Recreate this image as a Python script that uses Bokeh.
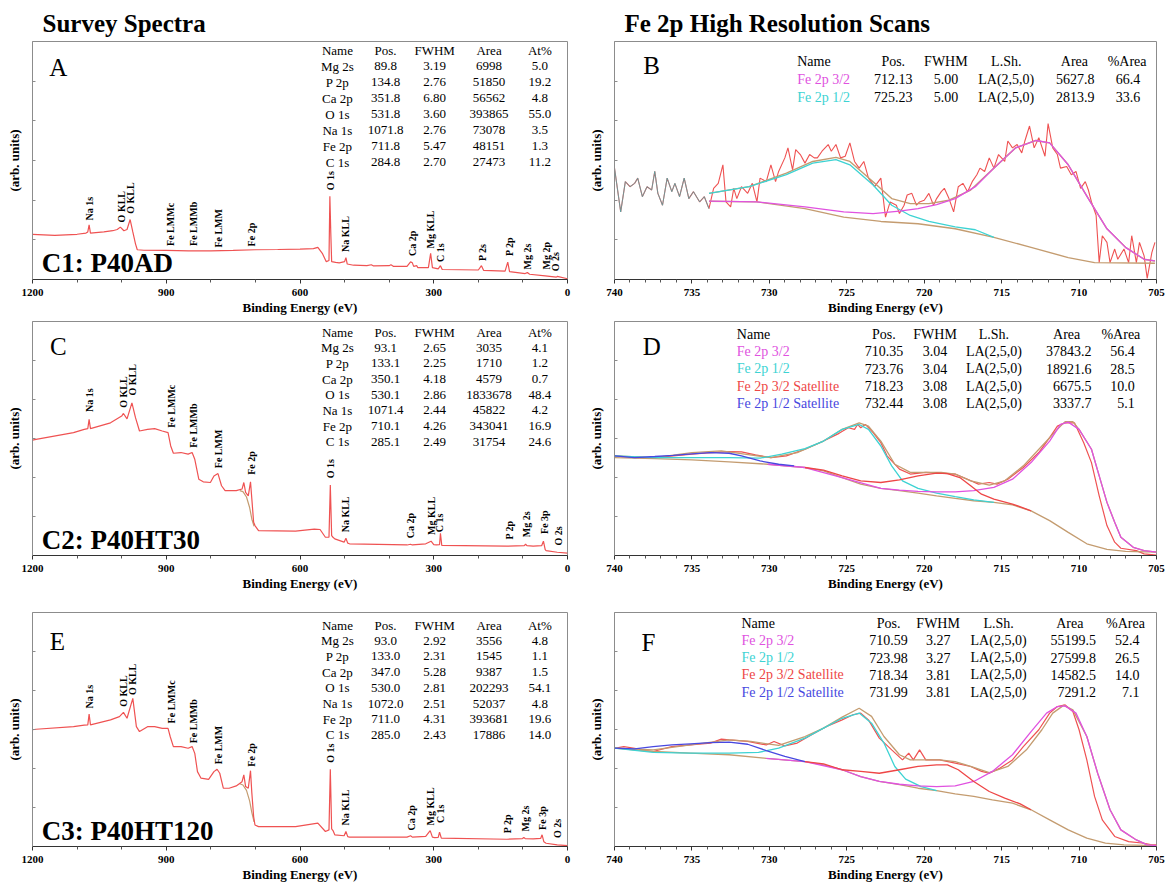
import math
from bokeh.plotting import figure
from bokeh.models import Range1d, FixedTicker
from bokeh.layouts import column, row
from bokeh.embed import file_html
from bokeh.resources import INLINE
from bokeh.core.properties import value

# ---------------- Survey spectra (binding energy eV, intensity arb. units) ----------------
A_E = [1200, 1150, 1100, 1080, 1076, 1073, 1070, 1040, 1020, 1010, 1003, 995, 988, 981, 975, 969, 965, 950, 900, 850,
       800, 750, 700, 650, 600, 570, 560, 550, 541, 535, 533, 531, 529, 520, 512, 500, 497, 494, 480, 450,
       440, 435, 400, 396, 390, 360, 352, 348, 345, 338, 336, 312, 307, 303, 290, 285, 281, 200, 193, 188,
       140, 134, 130, 95, 90, 85, 50, 25, 23, 0]
A_I = [19.0, 18.5, 19.0, 19.5, 20.0, 23.0, 19.5, 20.0, 20.5, 21.0, 22.0, 20.5, 21.0, 25.2, 20.0, 15.0, 12.5, 12.3, 12.2, 12.0,
       12.0, 12.2, 12.5, 12.6, 12.8, 13.0, 13.5, 11.0, 7.5, 8.0, 35.0, 20.0, 7.5, 7.2, 7.0, 7.5, 9.2, 6.5, 6.0, 5.8,
       6.2, 5.7, 5.8, 6.2, 5.5, 5.5, 7.4, 7.0, 5.5, 5.8, 5.0, 5.0, 11.0, 5.0, 4.5, 5.8, 4.2, 4.0, 5.8, 3.8,
       3.5, 7.3, 3.3, 2.5, 2.9, 2.2, 1.5, 1.0, 1.3, 0.3]

C_E = [1200, 1192, 1108, 1084, 1076, 1073, 1070, 1025, 1000, 996, 988, 977, 969, 960, 942, 926, 909, 896, 890, 884,
       867, 851, 842, 836, 827, 817, 801, 793, 784, 776, 768, 743, 730, 726, 722, 716, 711, 708, 704, 701,
       693, 610, 568, 555, 543, 535, 532, 529, 526, 522, 501, 497, 493, 489, 360, 352, 348, 318, 306, 300,
       294, 287, 285, 282, 136, 97, 94, 91, 77, 58, 54, 50, 48, 23, 0]
C_I = [49.3, 49.6, 52.5, 53.9, 54.2, 58.2, 54.2, 56.7, 59.6, 60.7, 58.4, 65.2, 58.9, 53.2, 53.9, 54.2, 53.2, 52.5, 46.8, 43.7,
       44.0, 43.3, 44.0, 41.1, 32.6, 31.5, 31.2, 34.0, 35.0, 29.8, 27.7, 27.7, 28.4, 31.2, 27.0, 25.5, 31.5, 24.1, 14.2, 12.8,
       10.6, 10.4, 11.3, 11.1, 7.8, 7.8, 30.1, 8.5, 7.8, 7.1, 5.7, 7.4, 5.3, 5.0, 4.5, 4.8, 4.5, 5.0, 6.1, 4.6,
       4.5, 4.6, 9.5, 4.3, 4.0, 4.2, 4.8, 4.2, 4.0, 4.2, 6.1, 2.5, 2.1, 1.4, 1.0]

E_E = [1200, 1192, 1108, 1084, 1076, 1073, 1070, 1025, 1005, 996, 988, 975, 967, 960, 942, 926, 909, 896, 891, 884,
       867, 851, 842, 836, 830, 822, 805, 793, 786, 780, 772, 759, 743, 730, 726, 722, 716, 711, 708, 704,
       701, 693, 610, 560, 543, 535, 532, 529, 526, 522, 501, 497, 493, 489, 360, 352, 348, 318, 308, 303,
       298, 290, 287, 283, 136, 101, 98, 95, 77, 60, 57, 53, 48, 23, 0]
E_I = [49.9, 50.1, 51.2, 51.9, 52.0, 56.6, 52.0, 54.1, 55.5, 57.3, 54.8, 63.3, 51.2, 49.1, 51.2, 51.2, 50.5, 50.5, 46.9, 42.7,
       42.7, 42.0, 42.7, 39.8, 32.0, 29.2, 28.7, 32.0, 33.0, 31.3, 24.9, 24.9, 25.9, 27.7, 30.6, 25.6, 24.9, 32.4, 22.8, 12.8,
       9.2, 8.5, 8.5, 10.0, 6.4, 7.1, 33.0, 7.5, 6.8, 5.0, 4.6, 6.4, 4.2, 4.0, 4.0, 4.6, 4.0, 4.3, 6.8, 4.0,
       3.8, 3.9, 6.1, 3.6, 3.1, 3.4, 3.8, 3.4, 3.3, 3.5, 5.0, 2.0, 1.4, 0.7, 0.4]

# Shirley backgrounds under the Fe 2p region of the survey scans
FE_BG_E = [735, 728, 720, 713, 708, 703]
C_FE_BG_I = [27.7, 27.3, 25.0, 20.5, 15.5, 12.5]
E_FE_BG_I = [26.8, 26.3, 24.0, 19.5, 14.5, 10.5]

# Peak labels of the survey scans
A_PEAKS = ["Na 1s", "O KLL", "O KLL", "Fe LMMc", "Fe LMMb", "Fe LMM", "Fe 2p", "O 1s", "Na KLL", "Ca 2p",
           "Mg KLL", "C 1s", "P 2s", "P 2p", "Mg 2s", "Mg 2p", "O 2s"]
A_PEAK_E = [1073, 1000, 980, 890, 838, 783, 709, 531, 497, 348, 308, 285, 190, 131, 90, 48, 27]
A_PEAK_I = [24.8, 24.0, 27.6, 14.1, 14.1, 13.4, 13.9, 37.5, 11.6, 9.9, 13.0, 7.4, 7.8, 9.9, 4.2, 4.2, 3.5]
C_PEAKS = ["Na 1s", "O KLL", "O KLL", "Fe LMMc", "Fe LMMb", "Fe LMM", "Fe 2p", "O 1s", "Na KLL", "Ca 2p",
           "Mg KLL", "C 1s", "P 2p", "Mg 2s", "Fe 3p", "O 2s"]
C_PEAK_E = [1073, 996, 975, 888, 838, 783, 709, 531, 497, 352, 306, 287, 131, 92, 52, 21]
C_PEAK_I = [61.3, 63.1, 68.4, 54.6, 46.1, 37.3, 34.5, 33.0, 9.9, 7.4, 8.8, 9.9, 6.8, 7.8, 9.2, 4.3]
E_PEAKS = C_PEAKS
E_PEAK_E = [1073, 996, 975, 888, 838, 783, 709, 532, 497, 350, 308, 285, 134, 94, 56, 23]
E_PEAK_I = [59.0, 59.7, 64.7, 52.6, 44.1, 35.1, 34.1, 35.8, 9.0, 6.8, 9.0, 10.0, 5.7, 6.4, 7.1, 3.6]

# Survey quantification tables
SURVEY_HEAD = ["Name", "Pos.", "FWHM", "Area", "At%"]
SURVEY_NAMES = ["Mg 2s", "P 2p", "Ca 2p", "O 1s", "Na 1s", "Fe 2p", "C 1s"]
A_POS = ["89.8", "134.8", "351.8", "531.8", "1071.8", "711.8", "284.8"]
A_FWHM = ["3.19", "2.76", "6.80", "3.60", "2.76", "5.47", "2.70"]
A_AREA = ["6998", "51850", "56562", "393865", "73078", "48151", "27473"]
A_AT = ["5.0", "19.2", "4.8", "55.0", "3.5", "1.3", "11.2"]
C_POS = ["93.1", "133.1", "350.1", "530.1", "1071.4", "710.1", "285.1"]
C_FWHM = ["2.65", "2.25", "4.18", "2.86", "2.44", "4.26", "2.49"]
C_AREA = ["3035", "1710", "4579", "1833678", "45822", "343041", "31754"]
C_AT = ["4.1", "1.2", "0.7", "48.4", "4.2", "16.9", "24.6"]
E_POS = ["93.0", "133.0", "347.0", "530.0", "1072.0", "711.0", "285.0"]
E_FWHM = ["2.92", "2.31", "5.28", "2.81", "2.51", "4.31", "2.43"]
E_AREA = ["3556", "1545", "9387", "202293", "52037", "393681", "17886"]
E_AT = ["4.8", "1.1", "1.5", "54.1", "4.8", "19.6", "14.0"]

# ---------------- Fe 2p high resolution scans ----------------
B_E = [740.0, 739.6, 739.3, 739.0, 738.7, 738.5, 738.2, 737.9, 737.6, 737.4, 737.2, 736.9, 736.6, 736.3, 736.1, 735.8,
       735.5, 735.2, 734.9, 734.5, 734.2, 733.9, 733.6, 733.3, 733.0, 732.8, 732.5, 732.3, 732.1, 731.8, 731.4, 731.1,
       730.8, 730.6, 730.2, 729.9, 729.6, 729.4, 729.0, 728.8, 728.5, 728.3, 728.0, 727.7, 727.4, 727.1, 726.9, 726.6,
       726.2, 726.0, 725.7, 725.4, 725.1, 724.8, 724.5, 724.2, 723.9, 723.6, 723.2, 722.8, 722.5, 722.2, 721.8, 721.6,
       721.3, 721.1, 720.8, 720.5, 720.3, 720.0, 719.7, 719.4, 719.2, 718.9, 718.7, 718.4, 718.1, 717.8, 717.5, 717.2,
       716.9, 716.6, 716.4, 716.1, 715.8, 715.5, 715.2, 714.8, 714.6, 714.3, 714.0, 713.7, 713.5, 713.2, 712.9, 712.6,
       712.2, 712.0, 711.7, 711.4, 711.2, 710.8, 710.5, 710.2, 709.9, 709.6, 709.4, 709.2, 708.9, 708.7, 708.5, 708.2,
       708.0, 707.7, 707.5, 707.1, 706.8, 706.6, 706.3, 706.1, 705.8, 705.6, 705.3, 705.1]
B_I = [46.8, 28.4, 41.1, 39.0, 40.4, 42.6, 34.8, 39.0, 37.6, 45.4, 36.2, 31.2, 42.6, 36.9, 40.4, 34.8,
       42.6, 34.0, 36.9, 32.6, 34.8, 29.8, 38.3, 40.4, 48.2, 32.6, 30.5, 38.3, 34.0, 39.0, 36.2, 40.4,
       32.6, 42.6, 41.1, 48.2, 41.1, 45.4, 51.1, 55.3, 46.1, 54.6, 52.5, 48.9, 52.5, 51.1, 51.1, 53.9,
       56.7, 53.9, 56.7, 51.1, 51.8, 57.4, 49.6, 46.8, 49.6, 42.6, 39.0, 42.6, 26.2, 32.6, 31.2, 27.7,
       31.2, 35.5, 36.2, 31.2, 32.6, 33.3, 36.2, 31.2, 34.0, 36.9, 38.3, 34.0, 28.4, 39.0, 40.4, 36.9,
       41.1, 44.0, 46.8, 45.4, 51.1, 46.8, 52.5, 49.6, 58.2, 55.3, 56.7, 53.2, 58.2, 64.5, 55.3, 59.6,
       51.8, 65.5, 55.3, 52.5, 46.8, 47.5, 44.0, 45.4, 38.3, 41.1, 37.6, 32.6, 27.0, 7.1, 18.4, 15.6,
       7.1, 12.8, 8.5, 12.8, 7.1, 18.4, 7.1, 15.6, 9.9, 0.5, 11.3, 15.6]
B_BG_E = [733.9, 730.8, 727.7, 725.2, 722.8, 720.4, 718.0, 715.5, 713.1, 710.7, 709.0, 705.1]
B_BG_I = [32.9, 32.6, 29.8, 26.2, 24.4, 23.4, 21.3, 17.7, 13.5, 9.2, 7.1, 6.8]
B_ENV_E = [733.9, 731.3, 728.9, 727.2, 725.7, 724.8, 723.3, 722.1, 720.9, 719.7, 718.4, 717.0, 715.5, 714.1, 712.8,
           711.9, 710.7, 709.4, 708.2, 707.0, 705.8, 705.1]
B_ENV_I = [36.2, 39.0, 44.7, 49.6, 51.3, 49.6, 41.1, 34.0, 31.9, 31.9, 33.3, 37.6, 46.8, 55.3, 58.4,
           57.4, 48.2, 34.0, 21.3, 13.5, 8.5, 7.8]
B_MAG_E = [733.9, 730.8, 727.7, 725.2, 723.3, 721.6, 720.4, 719.2, 718.0, 716.7, 715.5, 714.1, 712.8, 711.9, 710.7,
           709.4, 708.2, 707.0, 705.8, 705.1]
B_MAG_I = [32.9, 32.6, 30.5, 28.4, 27.7, 28.7, 29.8, 31.5, 34.0, 39.0, 46.8, 55.3, 58.4, 57.4, 48.2,
           34.0, 21.3, 13.5, 8.5, 7.8]
B_CYAN_E = [733.9, 731.3, 728.9, 727.2, 725.7, 724.8, 723.3, 722.1, 720.9, 719.7, 718.0, 716.7, 715.5]
B_CYAN_I = [36.2, 39.0, 44.1, 48.9, 50.4, 48.2, 39.7, 31.2, 26.9, 24.4, 22.1, 20.9, 17.7]

D_E = [740.0, 738.7, 737.4, 736.2, 735.0, 733.8, 732.6, 731.8, 730.9, 729.9, 728.9, 727.7, 726.5, 725.5, 724.9, 724.5,
       724.3, 724.1, 723.8, 723.3, 722.8, 722.4, 721.6, 720.9, 719.9, 718.9, 718.0, 717.2, 716.5, 715.8, 715.3, 714.6,
       713.6, 712.6, 711.9, 711.4, 710.9, 710.3, 709.7, 709.2, 708.7, 708.2, 707.7, 707.3, 706.3, 705.8, 705.0]
D_I = [42.6, 41.8, 41.8, 42.6, 43.3, 44.0, 44.4, 44.3, 43.0, 41.8, 42.6, 45.4, 48.9, 52.2, 54.6, 53.9,
       56.0, 54.6, 56.0, 52.5, 48.2, 42.6, 36.9, 34.8, 35.5, 35.2, 34.8, 32.6, 30.5, 31.2, 30.5, 32.6,
       37.6, 44.0, 50.4, 55.3, 56.7, 56.7, 48.2, 39.7, 25.5, 12.8, 5.7, 3.1, 2.1, 0.7, 0.2]
D_ENV_E = [740.0, 737.4, 735.0, 733.1, 731.6, 729.9, 728.2, 726.5, 725.3, 724.2, 723.6, 722.8, 721.9, 720.9, 718.9,
           718.0, 717.0, 715.8, 714.8, 713.6, 712.4, 711.4, 710.9, 710.4, 710.0, 709.2, 708.7, 708.2, 707.7, 707.3,
           706.5, 705.8, 705.0]
D_ENV_I = [42.6, 41.8, 44.0, 44.7, 43.3, 41.8, 44.0, 48.9, 53.9, 56.7, 55.3, 48.9, 39.0, 35.5, 35.5,
           34.8, 31.9, 30.1, 31.9, 38.3, 46.8, 53.9, 57.2, 57.2, 53.9, 45.4, 34.0, 22.7, 14.2, 7.8,
           3.5, 2.1, 1.4]
D_BG_E = [740.0, 737.4, 735.0, 732.6, 730.1, 727.7, 726.5, 725.3, 724.1, 722.8, 721.6, 720.4, 719.2, 718.0, 716.8,
          715.5, 714.3, 713.1, 711.9, 710.7, 709.5, 708.2, 707.0, 705.0]
D_BG_I = [41.8, 41.4, 40.9, 40.0, 39.0, 37.6, 36.2, 33.3, 30.5, 28.7, 27.7, 26.7, 25.5, 24.4, 23.4,
          22.7, 21.6, 19.1, 14.9, 9.9, 5.0, 2.6, 1.8, 1.4]
D_MAG_E = [730.1, 727.7, 725.3, 722.8, 721.6, 720.4, 719.2, 718.0, 716.8, 715.5, 714.3, 713.1, 711.9, 711.2, 710.7,
           710.0, 709.2, 708.7, 708.2, 707.7, 707.3, 706.5, 705.8, 705.0]
D_MAG_I = [39.0, 37.6, 33.3, 28.7, 27.9, 27.4, 27.2, 27.2, 27.7, 29.1, 32.6, 39.7, 48.9, 56.0, 57.0,
           53.9, 45.4, 34.0, 22.7, 14.2, 7.8, 3.5, 2.1, 1.4]
D_CYAN_E = [740.0, 737.4, 735.0, 732.6, 730.6, 729.2, 727.7, 726.5, 725.3, 724.2, 723.6, 722.8, 722.1, 721.4, 720.4,
            719.2, 718.0, 716.8, 715.5]
D_CYAN_I = [42.6, 41.8, 41.8, 41.8, 41.6, 43.3, 45.7, 48.9, 53.9, 56.0, 53.9, 46.8, 38.3, 31.9, 28.7,
            26.7, 25.2, 23.8, 22.7]
D_SAT_E = [727.7, 726.5, 725.3, 724.1, 722.8, 721.6, 720.4, 719.2, 718.5, 717.7, 717.0, 716.3, 715.5, 714.3, 713.1]
D_SAT_I = [37.6, 36.5, 34.0, 31.9, 31.2, 32.3, 34.0, 35.2, 35.0, 33.3, 29.8, 26.2, 24.1, 22.0, 19.1]
D_BSAT_E = [740.0, 738.7, 737.4, 736.2, 735.0, 733.8, 732.6, 731.8, 730.6, 729.4, 728.4]
D_BSAT_I = [42.6, 41.8, 42.3, 42.8, 43.4, 44.0, 43.7, 42.6, 40.4, 39.0, 38.3]

F_E = [740.0, 739.4, 738.7, 738.0, 737.5, 736.3, 735.1, 733.8, 733.1, 732.6, 731.4, 730.2, 729.7, 729.0, 728.2, 727.3,
       726.3, 725.3, 724.6, 724.1, 723.6, 722.9, 722.1, 721.4, 721.0, 720.7, 720.3, 719.9, 719.0, 718.0, 717.0, 716.3,
       715.8, 715.1, 714.3, 713.6, 712.6, 711.9, 711.4, 710.9, 710.4, 710.0, 709.5, 709.0, 708.5, 707.7, 706.8, 705.8,
       705.3, 705.0]
F_I = [42.0, 42.7, 42.0, 41.0, 40.6, 42.7, 43.4, 44.2, 45.9, 45.6, 44.9, 43.4, 44.9, 43.0, 44.2, 47.7,
       51.3, 54.1, 56.3, 57.0, 54.1, 46.3, 41.3, 37.0, 39.9, 37.0, 41.3, 37.0, 37.0, 35.6, 34.2, 32.1,
       31.3, 33.5, 37.0, 42.7, 49.9, 57.0, 59.8, 60.5, 57.7, 49.9, 37.0, 21.4, 11.4, 4.3, 2.1, 1.4,
       0.7, 0.7]
F_ENV_E = [740.0, 737.5, 735.1, 732.6, 731.2, 729.4, 727.7, 726.5, 725.3, 724.2, 723.4, 722.6, 721.6, 720.9, 719.0,
           718.0, 717.0, 715.8, 714.6, 713.4, 712.4, 711.7, 711.0, 710.4, 709.5, 708.8, 708.0, 707.3, 706.3, 705.6,
           705.0]
F_ENV_I = [42.0, 41.3, 43.4, 45.6, 44.9, 43.2, 47.0, 50.6, 55.3, 59.1, 55.6, 47.0, 39.2, 37.0, 37.0,
           36.3, 34.2, 31.6, 34.2, 41.3, 49.9, 57.0, 60.3, 58.4, 47.0, 31.3, 15.7, 7.1, 2.8, 0.7,
           0.4]
F_BG_E = [740.0, 737.5, 735.1, 732.6, 730.2, 727.7, 726.5, 725.3, 724.1, 722.9, 721.6, 720.4, 719.2, 718.0, 716.8,
          715.6, 714.3, 713.1, 711.9, 710.7, 709.5, 708.3, 707.1, 705.0]
F_BG_I = [42.0, 40.6, 39.9, 39.2, 37.7, 36.3, 34.9, 32.8, 29.9, 27.8, 26.4, 24.9, 23.9, 22.5, 21.4,
          19.9, 18.5, 15.7, 11.4, 7.1, 3.6, 1.4, 0.7, 0.4]
F_MAG_E = [730.2, 727.7, 725.3, 724.1, 722.9, 721.6, 720.4, 719.2, 718.0, 716.8, 715.6, 714.3, 713.1, 712.1, 711.4,
           710.9, 710.2, 709.5, 708.8, 708.0, 707.3, 706.3, 705.6, 705.0]
F_MAG_I = [37.7, 36.3, 32.8, 29.9, 27.8, 26.6, 25.9, 25.6, 25.9, 27.8, 32.1, 39.2, 49.1, 57.0, 59.8,
           60.1, 57.0, 47.0, 31.3, 15.7, 7.1, 2.8, 0.7, 0.4]
F_CYAN_E = [740.0, 737.5, 735.1, 732.6, 730.7, 729.4, 727.7, 726.5, 725.3, 724.2, 723.4, 722.6, 721.9, 721.2, 720.2,
            719.2]
F_CYAN_I = [42.0, 40.2, 39.9, 39.9, 40.2, 42.0, 46.3, 50.6, 54.8, 57.0, 52.7, 44.2, 34.2, 28.8, 25.6, 23.9]
F_SAT_E = [727.7, 726.5, 725.3, 724.1, 722.9, 721.6, 720.4, 719.2, 718.5, 717.8, 716.8, 715.8, 714.8, 713.8, 713.1]
F_SAT_I = [36.3, 35.3, 32.8, 32.1, 31.3, 32.8, 34.2, 34.9, 34.9, 32.8, 27.8, 23.5, 20.7, 18.2, 15.7]
F_BSAT_E = [740.0, 738.7, 737.5, 736.3, 735.1, 733.8, 732.6, 731.4, 730.2, 729.0, 727.7]
F_BSAT_I = [42.0, 41.7, 42.7, 43.4, 43.9, 44.4, 44.6, 43.7, 41.0, 38.5, 36.3]

# Fit tables of the Fe 2p scans
FE_HEAD = ["Pos.", "FWHM", "L.Sh.", "Area", "%Area"]
B_NAMES = ["Fe 2p 3/2", "Fe 2p 1/2"]
B_POS = ["712.13", "725.23"]
B_FWHM = ["5.00", "5.00"]
B_LSH = ["LA(2,5,0)", "LA(2,5,0)"]
B_AREA = ["5627.8", "2813.9"]
B_PCT = ["66.4", "33.6"]
DF_NAMES = ["Fe 2p 3/2", "Fe 2p 1/2", "Fe 2p 3/2 Satellite", "Fe 2p 1/2 Satellite"]
D_POS = ["710.35", "723.76", "718.23", "732.44"]
D_FWHM = ["3.04", "3.04", "3.08", "3.08"]
D_LSH = ["LA(2,5,0)"] * 4
D_AREA = ["37843.2", "18921.6", "6675.5", "3337.7"]
D_PCT = ["56.4", "28.5", "10.0", "5.1"]
F_POS = ["710.59", "723.98", "718.34", "731.99"]
F_FWHM = ["3.27", "3.27", "3.81", "3.81"]
F_LSH = ["LA(2,5,0)"] * 4
F_AREA = ["55199.5", "27599.8", "14582.5", "7291.2"]
F_PCT = ["52.4", "26.5", "14.0", "7.1"]

# ---------------- styling ----------------
SERIF = "Liberation Serif"
RED = "#ef5252"
TAN = "#c49c70"
MAG = "#e052e0"
CYAN = "#3dd3d3"
BLUE = "#4848e0"
SATRED = "#ee4646"
NAME_COLORS = [MAG, CYAN, SATRED, BLUE]
FRAME = "#8c8c8c"
BOTTOM = 37


def make_panel(kind, width, height, top, left, right, title=None):
    if kind == "survey":
        xr = Range1d(1200, 0)
        major = [0, 300, 600, 900, 1200]
        minor = [100, 200, 400, 500, 700, 800, 1000, 1100]
    else:
        xr = Range1d(740, 705)
        major = list(range(705, 741, 5))
        minor = [v for v in range(706, 740) if v % 5]
    kw = dict(width=width, height=height, x_range=xr, y_range=Range1d(0, 100),
              output_backend="svg", toolbar_location=None,
              min_border_top=top, min_border_bottom=BOTTOM,
              min_border_left=left, min_border_right=right)
    if title:
        p = figure(title=title, **kw)
        p.title.text_font = SERIF
        p.title.text_font_size = "25px"
        p.title.text_font_style = "bold"
        p.title.text_color = "black"
        p.title.align = "left"
        p.title.offset = 10
        p.title.standoff = 9
    else:
        p = figure(**kw)
    p.xgrid.visible = False
    p.ygrid.visible = False
    p.background_fill_color = "white"
    p.border_fill_color = "white"
    p.outline_line_color = FRAME
    p.outline_line_width = 1

    xa = p.xaxis[0]
    xa.ticker = FixedTicker(ticks=major, minor_ticks=minor)
    xa.axis_label = "Binding Energy (eV)"
    xa.axis_label_text_font = SERIF
    xa.axis_label_text_font_style = "bold"
    xa.axis_label_text_font_size = "13px"
    xa.axis_label_text_color = "black"
    xa.axis_label_standoff = 1
    xa.major_label_text_font = SERIF
    xa.major_label_text_font_style = "bold"
    xa.major_label_text_font_size = "11px"
    xa.major_label_text_color = "black"
    xa.major_label_standoff = 5
    xa.major_tick_in = 0
    xa.major_tick_out = 4
    xa.minor_tick_in = 0
    xa.minor_tick_out = 3
    xa.axis_line_color = "#333333"
    xa.major_tick_line_color = "#333333"
    xa.minor_tick_line_color = "#555555"

    ya = p.yaxis[0]
    ya.ticker = FixedTicker(ticks=[], minor_ticks=[100 * k / 6 for k in range(1, 6)])
    ya.axis_label = "(arb. units)"
    ya.axis_label_text_font = SERIF
    ya.axis_label_text_font_style = "bold"
    ya.axis_label_text_font_size = "13px"
    ya.axis_label_text_color = "black"
    ya.axis_label_standoff = 11
    ya.major_label_standoff = 0
    ya.major_tick_in = 0
    ya.major_tick_out = 0
    ya.minor_tick_in = 3
    ya.minor_tick_out = 0
    ya.axis_line_color = FRAME
    ya.minor_tick_line_color = FRAME
    return p


def put_text(p, xs, ys, texts, size, align="center", baseline="middle", style="normal",
             color="black", angle=0.0):
    p.text(x=xs, y=ys, text=texts, text_font=value(SERIF), text_font_size=size,
           text_align=align, text_baseline=baseline, text_font_style=style,
           text_color=color, angle=angle)


def survey_panel(p, E, I, peaks, peak_e, peak_i, letter, letter_xy, sample, table, table_top,
                 fe_bg=None):
    if fe_bg is not None:
        p.line(FE_BG_E, fe_bg, color=TAN, line_width=1.2)
    p.line(E, I, color=RED, line_width=1.2)
    put_text(p, peak_e, peak_i, peaks, "10px", align="left", style="bold", angle=math.pi / 2)
    cols_x = [516, 408, 298, 176, 62]
    step = 6.7
    for cx, head, vals in zip(cols_x, SURVEY_HEAD, table):
        ys = [table_top - step * k for k in range(len(vals) + 1)]
        put_text(p, [cx] * len(ys), ys, [head] + vals, "13px")
    put_text(p, [letter_xy[0]], [letter_xy[1]], [letter], "25px")
    put_text(p, [1179], [6.8], [sample], "27px", align="left", style="bold")


def fe_panel(p, letter, letter_xy, table, table_top, step, xs, names):
    name_x, pos_x, fwhm_x, lsh_x, area_c, area_r, pct_c, pct_r = xs
    pos, fwhm, lsh, area, pct = table
    n = len(names)
    rows = [table_top - step * (k + 1) for k in range(n)]
    put_text(p, [name_x], [table_top], ["Name"], "14px", align="left")
    put_text(p, [pos_x, fwhm_x, lsh_x, area_c, pct_c], [table_top] * 5, FE_HEAD, "14px")
    put_text(p, [name_x] * n, rows, names, "14px", align="left", color=NAME_COLORS[:n])
    put_text(p, [pos_x] * n, rows, pos, "14px")
    put_text(p, [fwhm_x] * n, rows, fwhm, "14px")
    put_text(p, [lsh_x] * n, rows, lsh, "14px")
    put_text(p, [area_r] * n, rows, area, "14px", align="right")
    put_text(p, [pct_r] * n, rows, pct, "14px", align="right")
    put_text(p, [letter_xy[0]], [letter_xy[1]], [letter], "25px")


# ---------------- layout ----------------
LW, RW = 579, 588
H1, H2, H3 = 317, 276, 291

pA = make_panel("survey", LW, H1, 41, 32, 12, "Survey Spectra")
pB = make_panel("fe", RW, H1, 41, 35, 11, "Fe 2p High Resolution Scans")
pC = make_panel("survey", LW, H2, 4, 32, 12)
pD = make_panel("fe", RW, H2, 4, 35, 11)
pE = make_panel("survey", LW, H3, 19, 32, 12)
pF = make_panel("fe", RW, H3, 19, 35, 11)

survey_panel(pA, A_E, A_I, A_PEAKS, A_PEAK_E, A_PEAK_I, "A", (1142, 89), "C1: P40AD",
             [SURVEY_NAMES, A_POS, A_FWHM, A_AREA, A_AT], 96.2)
survey_panel(pC, C_E, C_I, C_PEAKS, C_PEAK_E, C_PEAK_I, "C", (1142, 89.5), "C2: P40HT30",
             [SURVEY_NAMES, C_POS, C_FWHM, C_AREA, C_AT], 95.5, C_FE_BG_I)
survey_panel(pE, E_E, E_I, E_PEAKS, E_PEAK_E, E_PEAK_I, "E", (1144, 87.5), "C3: P40HT120",
             [SURVEY_NAMES, E_POS, E_FWHM, E_AREA, E_AT], 94.6, E_FE_BG_I)

# Panel B lines
pB.line(B_E, B_I, color=RED, line_width=1.1)
pB.line(B_E[:22], B_I[:22], color="#3fb0b0", line_width=1.0, alpha=0.7)
pB.line(B_BG_E, B_BG_I, color=TAN, line_width=1.4)
pB.line(B_ENV_E, B_ENV_I, color=TAN, line_width=1.4)
pB.line(B_CYAN_E, B_CYAN_I, color=CYAN, line_width=1.3)
pB.line(B_MAG_E, B_MAG_I, color=MAG, line_width=1.3)

for p, data, comps in [
    (pD, (D_E, D_I), [(D_BG_E, D_BG_I, TAN), (D_ENV_E, D_ENV_I, TAN), (D_CYAN_E, D_CYAN_I, CYAN),
                      (D_MAG_E, D_MAG_I, MAG), (D_SAT_E, D_SAT_I, SATRED), (D_BSAT_E, D_BSAT_I, BLUE)]),
    (pF, (F_E, F_I), [(F_BG_E, F_BG_I, TAN), (F_ENV_E, F_ENV_I, TAN), (F_CYAN_E, F_CYAN_I, CYAN),
                      (F_MAG_E, F_MAG_I, MAG), (F_SAT_E, F_SAT_I, SATRED), (F_BSAT_E, F_BSAT_I, BLUE)]),
]:
    p.line(data[0], data[1], color=RED, line_width=1.2)
    for ex, iy, col in comps:
        p.line(ex, iy, color=col, line_width=1.3)

fe_panel(pB, "B", (737.6, 89.8), [B_POS, B_FWHM, B_LSH, B_AREA, B_PCT], 91.5, 7.45,
         (728.2, 722.0, 718.6, 714.7, 710.3, 709.0, 706.9, 706.05), B_NAMES)
fe_panel(pD, "D", (737.6, 89.4), [D_POS, D_FWHM, D_LSH, D_AREA, D_PCT], 94.6, 7.4,
         (732.1, 722.6, 719.3, 715.5, 710.8, 709.2, 707.3, 706.4), DF_NAMES)
fe_panel(pF, "F", (737.8, 87.0), [F_POS, F_FWHM, F_LSH, F_AREA, F_PCT], 95.4, 7.35,
         (731.8, 722.3, 719.1, 715.2, 710.6, 708.9, 707.0, 706.1), DF_NAMES)

layout = column(row(pA, pB), row(pC, pD), row(pE, pF))
open("out.html", "w").write(file_html(layout, INLINE, "XPS spectra"))
